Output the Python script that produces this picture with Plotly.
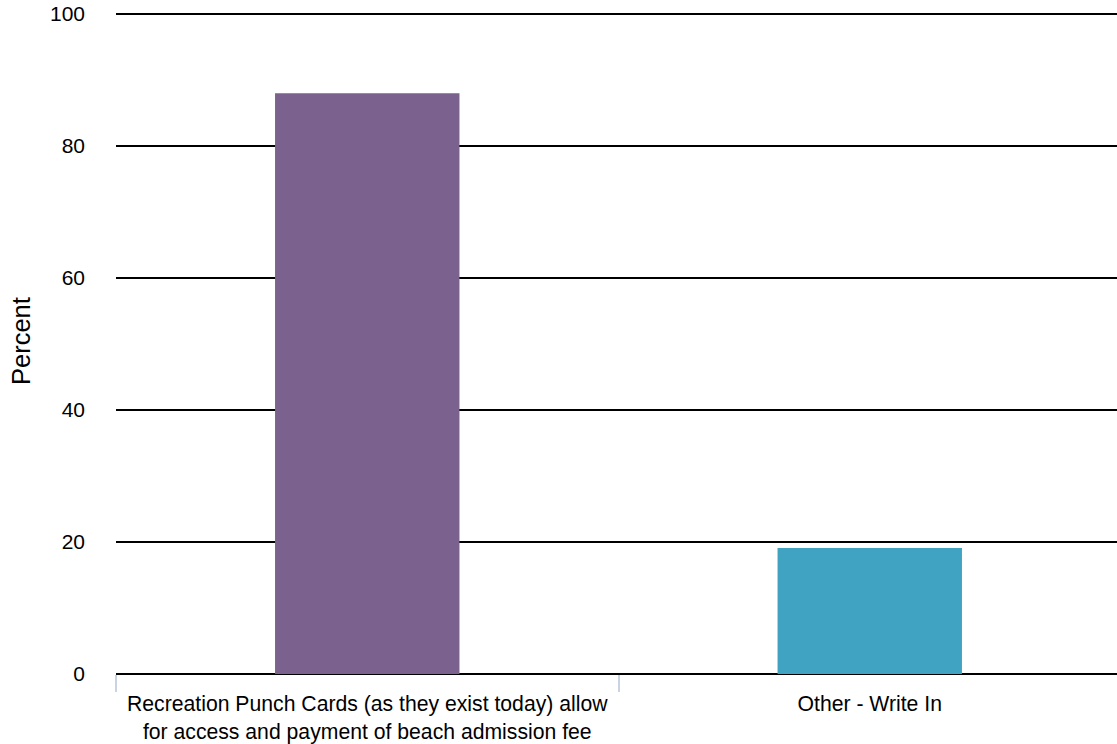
import plotly.graph_objects as go

categories = [
    "Recreation Punch Cards (as they exist today) allow<br>for access and payment of beach admission fee",
    "Other - Write In",
]
values = [88.0, 19.1]
colors = ["#7b618e", "#40a3c2"]
y_ticks = [0, 20, 40, 60, 80, 100]
y_title = "Percent"

fig = go.Figure()
fig.add_trace(go.Bar(
    x=categories,
    y=values,
    marker=dict(color=colors, line=dict(width=0)),
    width=0.367,
    showlegend=False,
))

font_family = "Liberation Sans, Arial, sans-serif"
fig.update_layout(
    width=1121,
    height=744,
    margin=dict(l=116, r=0, t=12, b=70),
    paper_bgcolor="white",
    plot_bgcolor="white",
    font=dict(family=font_family, size=21, color="#000000"),
    xaxis=dict(
        type="category",
        tickson="boundaries",
        ticks="outside",
        ticklen=17,
        tickcolor="#c9d3e6",
        tickwidth=2,
        showgrid=False,
        showline=False,
        automargin=False,
        ticklabelstandoff=15,
        tickfont=dict(size=21.2),
    ),
    yaxis=dict(
        range=[0, 100.3],
        tickvals=y_ticks,
        showgrid=True,
        gridcolor="#000000",
        gridwidth=2,
        zeroline=True,
        zerolinecolor="#000000",
        zerolinewidth=2,
        showline=False,
        ticks="",
        ticklabelstandoff=30,
        ticklabeloverflow="allow",
        automargin=False,
        tickfont=dict(size=21),
    ),
    annotations=[dict(
        text=y_title,
        textangle=-90,
        xref="paper", yref="paper",
        x=0, y=0.5,
        xshift=-95, yshift=2,
        xanchor="center", yanchor="middle",
        showarrow=False,
        font=dict(size=25.5, color="#000000"),
    )],
)

fig.write_html(
    "out.html",
    config={"displayModeBar": False},
    post_script="document.body.style.margin='0';document.body.style.overflow='hidden';",
)
